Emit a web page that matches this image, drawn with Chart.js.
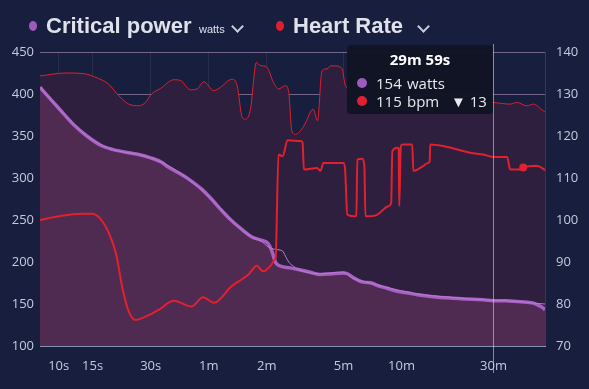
<!DOCTYPE html>
<html>
<head>
<meta charset="utf-8">
<script src="https://cdn.jsdelivr.net/npm/chart.js@4.4.1/dist/chart.umd.min.js"></script>
<style>
  html, body { margin: 0; padding: 0; background: #181e3e; }
  #wrap { position: relative; width: 589px; height: 389px; overflow: hidden; }
  #chart { position: absolute; left: 0; top: 0; }
  .lg { position: absolute; font-family: 'Liberation Sans', Arial, sans-serif; color: #dfe2ea; white-space: nowrap; }
  .big { font-weight: bold; font-size: 22px; line-height: 22px; top: 15px; }
  .small { font-size: 11px; line-height: 11px; top: 24px; }
  .dot { position: absolute; width: 8px; height: 10px; border-radius: 50%; top: 21px; }
  .chev { position: absolute; width: 7px; height: 7px; border-right: 2px solid #c9cdd8; border-bottom: 2px solid #c9cdd8; transform: rotate(45deg); top: 22px; }
  #tip { position: absolute; left: 347px; top: 45px; width: 146px; height: 69px; background: rgba(17, 20, 36, 0.96); border-radius: 4px; font-family: 'Open Sans', sans-serif; color: #e8eaf0; }
  #tip .t { position: absolute; left: 0; width: 146px; top: 4px; text-align: center; font-weight: bold; font-size: 15px; color: #fff; }
  #tip .c { position: absolute; width: 10px; height: 10px; border-radius: 50%; left: 10px; }
  #tip .v { position: absolute; font-size: 15px; line-height: 18px; }
</style>
</head>
<body>
<div id="wrap">
  <canvas id="chart" width="589" height="389"></canvas>

  <div class="dot" style="left:29px; background:#9d5cbb;"></div>
  <div class="lg big" style="left:46px;">Critical power</div>
  <div class="lg small" style="left:199px;">watts</div>
  <div class="chev" style="left:233px;"></div>
  <div class="dot" style="left:276px; background:#e0202e;"></div>
  <div class="lg big" style="left:293px;">Heart Rate</div>
  <div class="chev" style="left:419px;"></div>

  <div id="tip">
    <div class="t">29m 59s</div>
    <div class="c" style="top:33px; background:#9d5cbb;"></div>
    <div class="v" style="left:29px; top:29px;">154</div>
    <div class="v" style="left:60px; top:29px;">watts</div>
    <div class="c" style="top:51px; background:#e0202e;"></div>
    <div class="v" style="left:29px; top:47px;">115</div>
    <div class="v" style="left:60px; top:47px;">bpm</div>
    <div class="v" style="left:104px; top:47px;">&#9660; 13</div>
  </div>
</div>

<script>
// Ось X: длительность в секундах (логарифмическая шкала)
const tickSecs = [10, 15, 30, 60, 120, 300, 600, 1800];
const tickLabels = ['10s', '15s', '30s', '1m', '2m', '5m', '10m', '30m'];
const hoverSec = 1799;
const markerSec = 2567;

// Критическая мощность (толстая линия)
const cpSecs = [8, 10, 12, 14, 16.5, 19, 23, 26, 30, 34, 37, 42, 47, 55, 62, 69, 79, 90, 100, 112,
  122, 128, 133, 138, 159, 175, 200, 228, 260, 300, 315, 340, 380, 420, 450, 500, 570, 650, 724, 850, 1072,
  1300, 1590, 1800, 2100, 2394, 2700, 2900, 3100, 3270, 3330];
const cpWatts = [408, 383, 363, 350, 339, 334, 330, 328, 324, 319, 313, 306, 299, 287, 275, 263, 249, 238, 230, 226,
  222, 212, 200, 196, 193, 191, 188, 185, 186, 187, 186, 181, 176, 175, 172, 169, 165, 163, 161, 159, 157,
  156, 155, 154, 154, 153, 152, 151, 148, 145, 143];

// Критическая мощность (предыдущая, тонкая линия)
const cpPrevSecs = [8, 10, 14, 19, 26, 34, 47, 62, 79, 100, 112, 122, 133, 145, 150, 156, 165, 175, 228, 300,
  320, 340, 380, 500, 724, 1072, 1590, 2394, 2900, 3330];
const cpPrevWatts = [408, 383, 350, 334, 328, 319, 299, 275, 249, 230, 225, 218, 215, 213, 207, 200, 195, 191, 186, 188,
  184, 180, 177, 170, 162, 158, 155, 153, 151, 150];

// Пульс - максимум (тонкая линия с заливкой)
const hrMaxSecs = [8, 10.9, 13.2, 16.1, 18.2, 20.5, 23.1, 26, 28.2, 30.3, 33.7, 39.6, 42.9, 48.3, 52.2, 56.6, 63.8, 69, 79.2, 84.3,
  89.6, 93.1, 98.8, 106, 111, 120, 130, 138, 150, 156, 162, 169, 187, 209, 220, 232, 247, 257, 272, 295,
  307, 330, 360, 420, 500, 600, 750, 900, 1100, 1300, 1500, 1800, 2198, 2380, 2680, 2900, 3260, 3330];
const hrMaxBpm = [134.3, 135, 134.9, 133.7, 132.3, 129.6, 127.6, 127.2, 128, 130, 131.3, 133.4, 133.2, 131, 131.2, 132.9, 130.8, 131.6, 133.5, 132,
  124.4, 124, 126.4, 137.5, 136.8, 136.4, 132.8, 131.2, 132, 130.4, 121.2, 120.4, 122.4, 126.4, 123.6, 135.5, 136, 136.7, 136.7, 136,
  132, 131, 130.5, 131, 130, 130.5, 129.5, 130, 129, 129.5, 128.5, 128, 127.6, 128, 127.2, 127.6, 126, 125.8];

// Пульс (толстая линия)
const hrSecs = [8, 10, 13.2, 14.8, 16.3, 18.2, 19.8, 21.5, 23.1, 25.1, 28.2, 33, 39.5, 48.9, 56, 64, 78.7, 96.5, 106.5,
  115, 127, 131.5, 133.5, 138, 145, 154, 179, 184, 187, 219, 228, 236, 289, 300, 306, 314, 338, 350, 354,
  376, 385, 390, 414, 450, 513, 530, 538, 571, 580, 584, 595, 606, 682, 691, 751, 826, 840, 846, 988,
  1167, 1364, 1593, 1800, 2120, 2198, 2477, 2567, 3033, 3334];
const hrBpm = [100, 100.9, 101.5, 101.5, 100.5, 96.9, 92.1, 83.4, 78.2, 76.2, 77, 78.6, 80.8, 79.4, 81.6, 80.3, 84.2, 87, 89.1,
  87.8, 89.4, 90.5, 91, 115.6, 115.2, 119, 118.8, 118.5, 112, 112.4, 111.7, 113.6, 113.6, 113.6, 112, 101.3, 100.9, 101, 114.4,
  114.6, 113, 100.9, 100.9, 101.3, 103.3, 104, 116.4, 117.2, 117, 103.3, 117.5, 118, 118, 111.7, 112.4, 113.6, 114, 118, 117.6,
  116.8, 116, 115.6, 115, 115, 112, 112, 112.5, 112.9, 111.9];

function toPoints(xs, ys) {
  return xs.map((x, i) => ({ x: x, y: ys[i] }));
}

const tickFont = { family: 'Open Sans', size: 13 };
const tickColor = '#c5cbdc';

// Вертикальная линия наведения
const crosshair = {
  id: 'crosshair',
  afterDraw(chart) {
    const ctx = chart.ctx;
    const x = Math.round(chart.scales.x.getPixelForValue(hoverSec)) + 0.5;
    ctx.save();
    ctx.strokeStyle = 'rgba(205, 208, 222, 0.6)';
    ctx.lineWidth = 1;
    ctx.beginPath();
    ctx.moveTo(x, chart.chartArea.top - 8);
    ctx.lineTo(x, chart.chartArea.bottom + 27);
    ctx.stroke();
    ctx.restore();
  }
};

new Chart(document.getElementById('chart'), {
  type: 'line',
  data: {
    datasets: [
      {
        data: toPoints(hrSecs, hrBpm),
        yAxisID: 'y1',
        borderColor: '#e3202f',
        borderWidth: 2,
        pointRadius: ctx => (hrSecs[ctx.dataIndex] === markerSec ? 4 : 0),
        pointBackgroundColor: '#e3202f',
        pointBorderWidth: 0,
        cubicInterpolationMode: 'monotone',
        fill: false
      },
      {
        data: toPoints(cpPrevSecs, cpPrevWatts),
        yAxisID: 'y',
        borderColor: '#b87ad2',
        borderWidth: 1,
        cubicInterpolationMode: 'monotone',
        fill: false
      },
      {
        data: toPoints(cpSecs, cpWatts),
        yAxisID: 'y',
        borderColor: '#a760c2',
        borderWidth: 3.5,
        backgroundColor: '#4f2a51',
        cubicInterpolationMode: 'monotone',
        fill: 'start'
      },
      {
        data: toPoints(hrMaxSecs, hrMaxBpm),
        yAxisID: 'y1',
        borderColor: '#df1f2e',
        borderWidth: 1,
        backgroundColor: '#2e1f3e',
        cubicInterpolationMode: 'monotone',
        fill: 'start'
      }
    ]
  },
  options: {
    responsive: false,
    animation: false,
    layout: { padding: { top: 52, left: 0, right: 0, bottom: 0 } },
    plugins: { legend: { display: false }, tooltip: { enabled: false } },
    elements: { point: { radius: 0 } },
    scales: {
      x: {
        type: 'logarithmic',
        min: 8,
        max: 3330,
        afterBuildTicks: s => { s.ticks = tickSecs.map(v => ({ value: v })); },
        afterFit: s => { s.height = 43; },
        ticks: {
          callback: (v, i) => tickLabels[i],
          autoSkip: false,
          maxRotation: 0,
          padding: 12,
          color: tickColor,
          font: tickFont
        },
        grid: { color: 'rgba(255,255,255,0.07)', drawTicks: false },
        border: { color: '#8593b3' }
      },
      y: {
        position: 'left',
        min: 100,
        max: 450,
        afterFit: s => { s.width = 40; },
        ticks: { stepSize: 50, padding: 6, color: tickColor, font: tickFont },
        grid: { color: 'rgba(240,200,240,0.42)', drawTicks: false },
        border: { display: false }
      },
      y1: {
        position: 'right',
        min: 70,
        max: 140,
        afterFit: s => { s.width = 44; },
        ticks: { stepSize: 10, padding: 11, color: tickColor, font: tickFont },
        grid: { drawOnChartArea: false, drawTicks: false },
        border: { color: 'rgba(255,255,255,0.12)' }
      }
    }
  },
  plugins: [crosshair]
});
</script>
</body>
</html>
